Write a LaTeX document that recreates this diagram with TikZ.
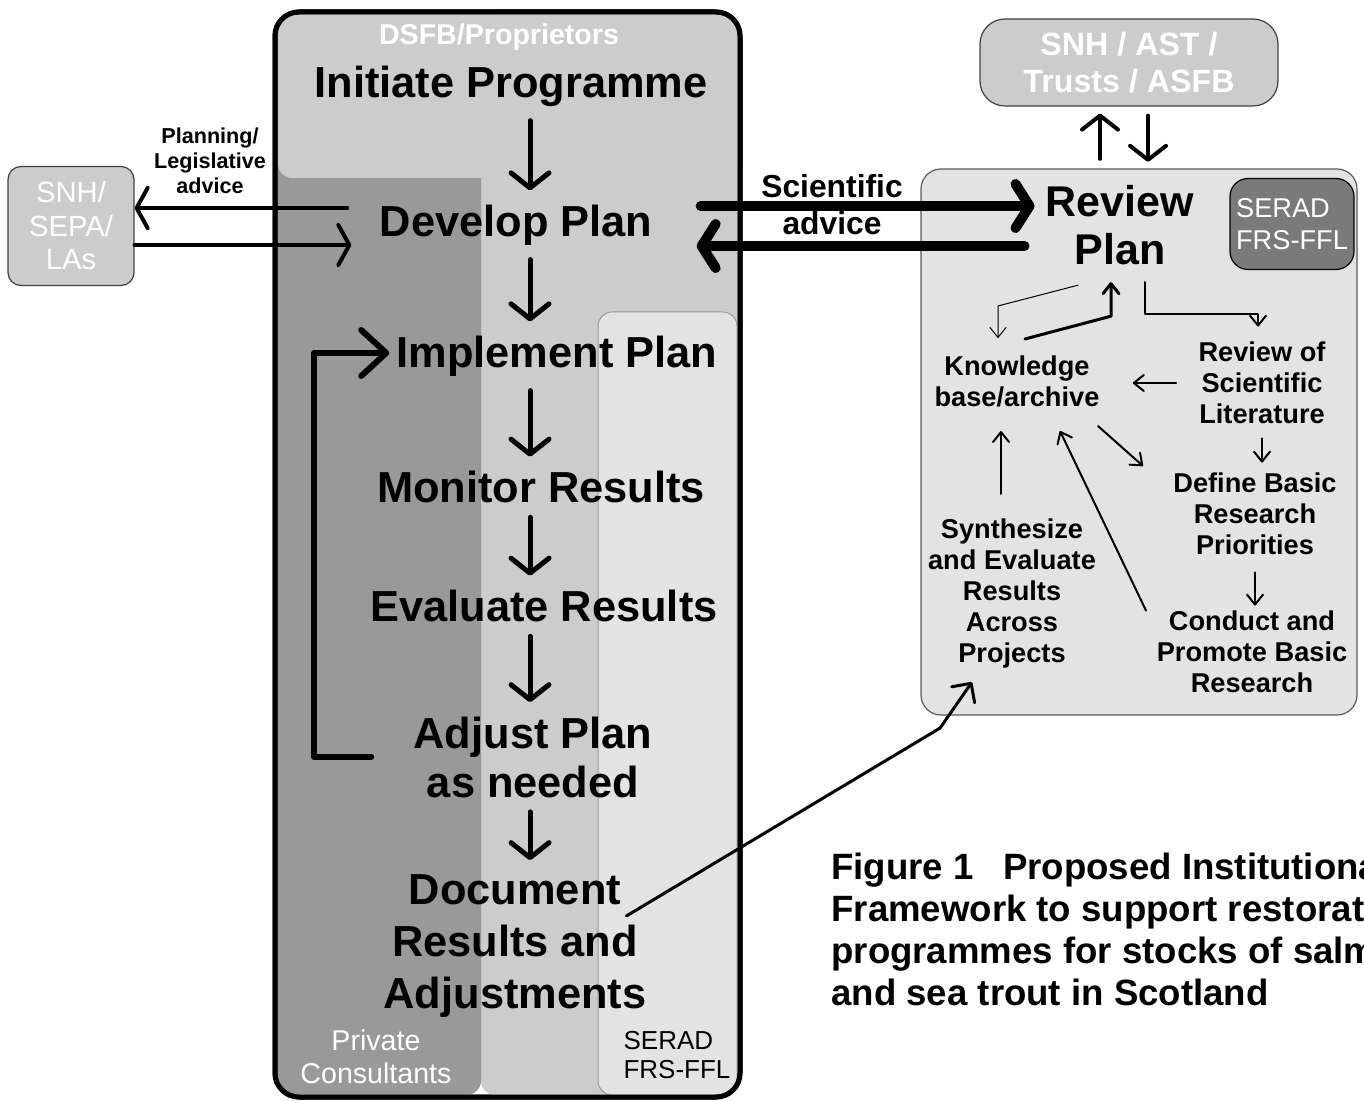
\documentclass[tikz,border=0pt]{standalone}
\usepackage{fontspec}
\setmainfont{Liberation Sans}
\usetikzlibrary{arrows.meta}

\begin{document}
\begin{tikzpicture}[
        x=0.5pt, y=-0.5pt,
        line cap=round, line join=round,
        band/.style={rounded corners=7pt},
        steptext/.style={
            align=center,
            inner sep=0pt,
            font=\fontsize{21.7}{26}\selectfont\bfseries
        },
        paneltext/.style={
            align=center,
            inner sep=0pt,
            font=\fontsize{13.6}{15.5}\selectfont\bfseries
        },
        agency/.style={
            align=center,
            inner sep=0pt,
            text=white,
            fill=black!20,
            draw=black!75,
            line width=0.6pt
        },
        flow/.style={-{Straight Barb[round,length=7.5pt,width=19pt]}, line width=2.5pt, shorten <=7pt, shorten >=7pt},
        redo/.style={-{Straight Barb[round,length=12.5pt,width=23pt]}, line width=3pt},
        advice/.style={-{Straight Barb[round,length=7pt,width=22pt]}, line width=5pt},
        statute/.style={-{Straight Barb[round,length=5.5pt,width=20pt]}, line width=2pt},
        tie/.style={-{Straight Barb[round,length=7pt,width=18pt]}, line width=2pt},
        link/.style={-{Straight Barb[round,length=5pt,width=8pt]}, line width=1pt},
        report/.style={-{Straight Barb[round,length=7pt,width=14pt]}, line width=1.5pt}
    ]
    \useasboundingbox (0,0) rectangle (1364,1101);
    \clip (0,0) rectangle (1364,1101);

    \draw[fill=white, line width=2.5pt, rounded corners=12pt] (275,12) rectangle (740,1097);
    \fill[black!20, band] (481,15) rectangle (737,1095);
    \fill[black!40, band] (278,150) rectangle (481,1095);
    \fill[black!20, band] (278,15) rectangle (737,178);
    \filldraw[fill=black!11, draw=black!40, line width=0.5pt, band] (598,312) rectangle (737,1095);
    \draw[line width=2.5pt, rounded corners=12pt] (275,12) rectangle (740,1097);
    \filldraw[fill=black!11, draw=black!65, line width=0.6pt, rounded corners=10pt] (921,169) rectangle (1357,715);

    \node[text=white, inner sep=0pt, font=\fontsize{14.3}{17}\selectfont\bfseries] (owner) at (499,37) {DSFB/Proprietors};
    \node[steptext] (init) at (511,86) {Initiate Programme};
    \node[steptext] (dev) at (516,225) {Develop Plan};
    \node[steptext] (impl) at (557,356) {Implement Plan};
    \node[steptext] (mon) at (541,487) {Monitor Results};
    \node[steptext] (eval) at (544,606) {Evaluate Results};
    \node[steptext, font=\fontsize{21.7}{24.5}\selectfont\bfseries] (adjust) at (533,757) {Adjust Plan\\as needed};
    \node[steptext] (doc) at (515,946) {Document\\Results and\\Adjustments};
    \node[text=white, align=center, inner sep=0pt, font=\fontsize{14.3}{16.5}\selectfont] (consult) at (376,1057) {Private\\Consultants};
    \node[align=left, inner sep=0pt, font=\fontsize{13}{14.5}\selectfont] (seradB) at (677,1055) {SERAD\\FRS-FFL};

    \node[agency, rounded corners=6.5pt, minimum width=63pt, minimum height=59.5pt, font=\fontsize{14.6}{16.75}\selectfont] (sepa) at (71,226) {SNH/\\SEPA/\\LAs};
    \node[align=center, inner sep=0pt, font=\fontsize{10.8}{12.5}\selectfont\bfseries] (planlabel) at (210,161) {Planning/\\Legislative\\advice};
    \node[align=center, inner sep=0pt, font=\fontsize{15.9}{18.5}\selectfont\bfseries] (scilabel) at (832,205) {Scientific\\advice};

    \node[agency, rounded corners=12.5pt, minimum width=149pt, minimum height=43.5pt, font=\fontsize{16.1}{18.5}\selectfont\bfseries] (trusts) at (1129,62.5) {SNH / AST /\\Trusts / ASFB};
    \node[steptext, font=\fontsize{21.5}{24}\selectfont\bfseries] (review) at (1120,225) {Review\\Plan};
    \node[agency, fill=black!52, draw=black, rounded corners=9pt, minimum width=62pt, minimum height=45.5pt, align=left, font=\fontsize{13.6}{16}\selectfont] (seradR) at (1292,224) {SERAD\\FRS-FFL};
    \node[paneltext] (kb) at (1017,381) {Knowledge\\base/archive};
    \node[paneltext] (lit) at (1262,383) {Review of\\Scientific\\Literature};
    \node[paneltext] (prio) at (1255,514) {Define Basic\\Research\\Priorities};
    \node[paneltext] (cond) at (1252,652) {Conduct and\\Promote Basic\\Research};
    \node[paneltext] (synth) at (1012,593) {Synthesize\\and Evaluate\\Results\\Across\\Projects};

    \node[anchor=north west, align=left, inner sep=0pt, font=\fontsize{18.3}{21}\selectfont\bfseries] (figcap) at (831,853) {Figure 1\hspace{0.8em}Proposed Institutional\\Framework to support restoration\\programmes for stocks of salmon\\and sea trout in Scotland};

    \coordinate (spine) at (530,0);
    \draw[flow] (init.south -| spine) -- (dev.north -| spine);
    \draw[flow] (dev.south -| spine) -- (impl.north -| spine);
    \draw[flow] (impl.south -| spine) -- (mon.north -| spine);
    \draw[flow] (mon.south -| spine) -- (eval.north -| spine);
    \draw[flow] (eval.south -| spine) -- (adjust.north -| spine);
    \draw[flow] (adjust.south -| spine) -- (doc.north -| spine);
    \draw[redo] ([xshift=-21pt]adjust.west) -- ++(-28.5pt,0) |- ([xshift=-3.5pt,yshift=1.5pt]impl.west);

    \coordinate (devout) at ([xshift=-16pt,yshift=8.5pt]dev.west);
    \coordinate (devin) at ([xshift=-14pt,yshift=-10pt]dev.west);
    \draw[statute] (devout) -- (devout -| sepa.east);
    \draw[statute] (devin -| sepa.east) -- (devin);

    \draw[advice] ([xshift=24pt,yshift=9.5pt]dev.east) -- ([xshift=-5.5pt,yshift=9.5pt]review.west);
    \draw[advice] ([xshift=-10.5pt,yshift=-10.5pt]review.west) -- ([xshift=22pt,yshift=-10.5pt]dev.east);

    \coordinate (upfoot) at ([xshift=-10pt,yshift=13pt]review.north);
    \coordinate (downtip) at ([xshift=14pt,yshift=11.5pt]review.north);
    \draw[tie, shorten >=3.5pt] (upfoot) -- (upfoot |- trusts.south);
    \draw[tie, shorten <=4.5pt] (downtip |- trusts.south) -- (downtip);

    \draw[link, line width=0.5pt] ([xshift=-21pt,yshift=-10pt]review.south) -- ([xshift=-9.5pt,yshift=24.5pt]kb.north) -- ([xshift=-9.5pt,yshift=8.5pt]kb.north);
    \draw[link, line width=1.5pt] ([xshift=4pt,yshift=8pt]kb.north) -- ([xshift=-4.5pt,yshift=-25.5pt]review.south) -- ([xshift=-4.5pt,yshift=-8.5pt]review.south);
    \draw[link] ([xshift=12.5pt,yshift=-8.5pt]review.south) |- ([xshift=-2pt,yshift=14pt]lit.north) -- ([xshift=-2pt,yshift=7.5pt]lit.north);
    \draw[link, shorten <=11pt, shorten >=16.5pt] (lit.west) -- (lit.west -| kb.east);
    \draw[link, shorten <=7pt, shorten >=5pt] (lit.south) -- (lit.south |- prio.north);
    \draw[link, shorten <=8.5pt, shorten >=2.5pt] (prio.south) -- (prio.south |- cond.north);
    \draw[link] ([xshift=40.5pt,yshift=-9.5pt]kb.south) -- ([xshift=-15pt,yshift=24pt]prio.west);
    \draw[link] ([xshift=-53pt]cond.north) -- ([xshift=21.5pt,yshift=-12pt]kb.south);
    \coordinate (synthtop) at ([xshift=-5.5pt]synth.north);
    \draw[link, shorten <=12pt, shorten >=12pt] (synthtop) -- (synthtop |- kb.south);

    \draw[report] ([xshift=-10.25pt,yshift=15pt]doc.east) -- ([xshift=-36pt,yshift=-30pt]synth.south) -- ([xshift=-20pt,yshift=-7pt]synth.south);
\end{tikzpicture}
\end{document}
